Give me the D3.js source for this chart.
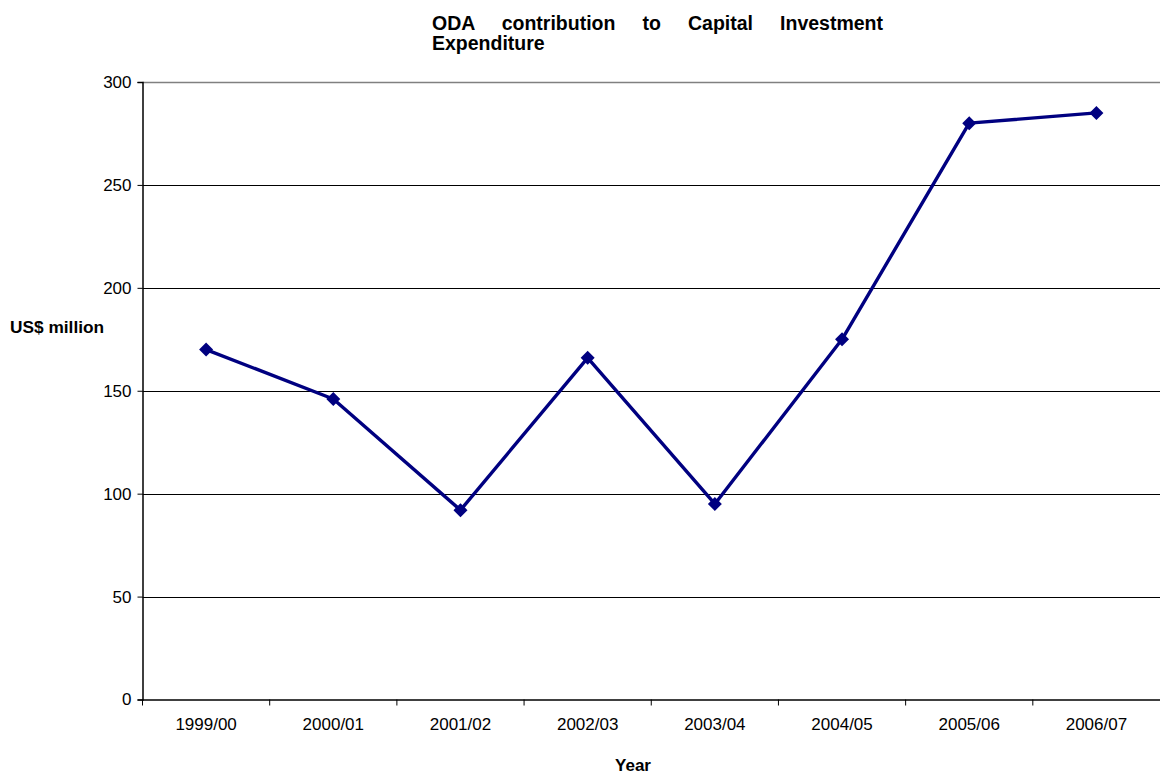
<!DOCTYPE html>
<html>
<head>
<meta charset="utf-8">
<script src="https://cdn.jsdelivr.net/npm/d3@7"></script>
<style>
  html, body { margin: 0; padding: 0; background: #fff; }
  svg { display: block; font-family: "Liberation Sans", Arial, sans-serif; }
</style>
</head>
<body>
<svg id="chart" width="1160" height="776"></svg>
<script>
// Financial years and ODA contribution (US$ million)
const years = ["1999/00", "2000/01", "2001/02", "2002/03", "2003/04", "2004/05", "2005/06", "2006/07"];
const odaValues = [170, 146, 92, 166, 95, 175, 280, 285];
const yTicks = [0, 50, 100, 150, 200, 250, 300];

const titleLines = ["ODA contribution to Capital Investment", "Expenditure"];
const yLabel = "US$ million";
const xLabel = "Year";

const svg = d3.select("#chart");
const margin = { left: 142.5, right: 1160, top: 82, bottom: 699.5 };

const x = d3.scaleBand().domain(years).range([margin.left, margin.right]).padding(0);
const y = d3.scaleLinear().domain([0, 300]).range([margin.bottom, margin.top]);

// Horizontal gridlines
svg.append("g")
  .selectAll("line")
  .data(yTicks.filter(d => d > 0 && d < 300))
  .join("line")
  .attr("x1", margin.left).attr("x2", margin.right)
  .attr("y1", d => Math.round(y(d)) + 0.5).attr("y2", d => Math.round(y(d)) + 0.5)
  .attr("stroke", "#000").attr("stroke-width", 1);

// Plot area top border
svg.append("line")
  .attr("x1", margin.left).attr("x2", margin.right)
  .attr("y1", Math.round(y(300)) + 0.5).attr("y2", Math.round(y(300)) + 0.5)
  .attr("stroke", "#808080").attr("stroke-width", 1.5);

// Y axis
const yAxis = svg.append("g")
  .attr("transform", `translate(${margin.left},0)`)
  .call(d3.axisLeft(y).tickValues(yTicks).tickSize(5).tickPadding(6));
yAxis.select(".domain").attr("stroke", "#000").attr("stroke-width", 1.5);
yAxis.selectAll(".tick line").attr("stroke", "#000");
yAxis.selectAll(".tick text")
  .attr("font-size", 17).attr("font-family", "Liberation Sans, Arial, sans-serif").attr("fill", "#000");

// X axis with ticks on category boundaries
const xAxis = svg.append("g")
  .attr("transform", `translate(0,${margin.bottom})`)
  .call(d3.axisBottom(x).tickSize(0).tickPadding(18));
xAxis.select(".domain").attr("stroke", "#000").attr("stroke-width", 1.5);
xAxis.selectAll(".tick text")
  .attr("font-size", 17).attr("font-family", "Liberation Sans, Arial, sans-serif").attr("fill", "#000");
xAxis.selectAll(".boundary")
  .data(years)
  .join("line")
  .attr("class", "boundary")
  .attr("x1", d => x(d)).attr("x2", d => x(d))
  .attr("y1", 0).attr("y2", 6)
  .attr("stroke", "#000").attr("stroke-width", 1);

// Series line
const cx = d => x(d) + x.bandwidth() / 2;
const pts = years.map((d, i) => [cx(d), y(odaValues[i])]);
svg.append("path")
  .datum(pts)
  .attr("d", d3.line())
  .attr("fill", "none")
  .attr("stroke", "#000080")
  .attr("stroke-width", 3.4)
  .attr("stroke-linejoin", "round");

// Diamond markers
svg.append("g")
  .selectAll("path")
  .data(pts)
  .join("path")
  .attr("transform", d => `translate(${d[0]},${d[1]})`)
  .attr("d", "M0,-7L7,0L0,7L-7,0Z")
  .attr("fill", "#000080");

// Title: first line justified across a fixed width
const title = svg.append("g").attr("font-size", 19.5).attr("font-weight", "bold").attr("fill", "#000");
const t1 = title.append("text").attr("x", 432).attr("y", 30).text(titleLines[0]);
const natural = t1.node().getComputedTextLength();
const gaps = titleLines[0].split(" ").length - 1;
t1.style("word-spacing", ((883 - 432 - natural) / gaps) + "px");
title.append("text").attr("x", 432).attr("y", 50).text(titleLines[1]);

// Axis titles
svg.append("text")
  .attr("x", 10).attr("y", 333)
  .attr("font-size", 17.3).attr("font-weight", "bold")
  .text(yLabel);
svg.append("text")
  .attr("x", 633).attr("y", 771)
  .attr("text-anchor", "middle")
  .attr("font-size", 17).attr("font-weight", "bold")
  .text(xLabel);
</script>
</body>
</html>
